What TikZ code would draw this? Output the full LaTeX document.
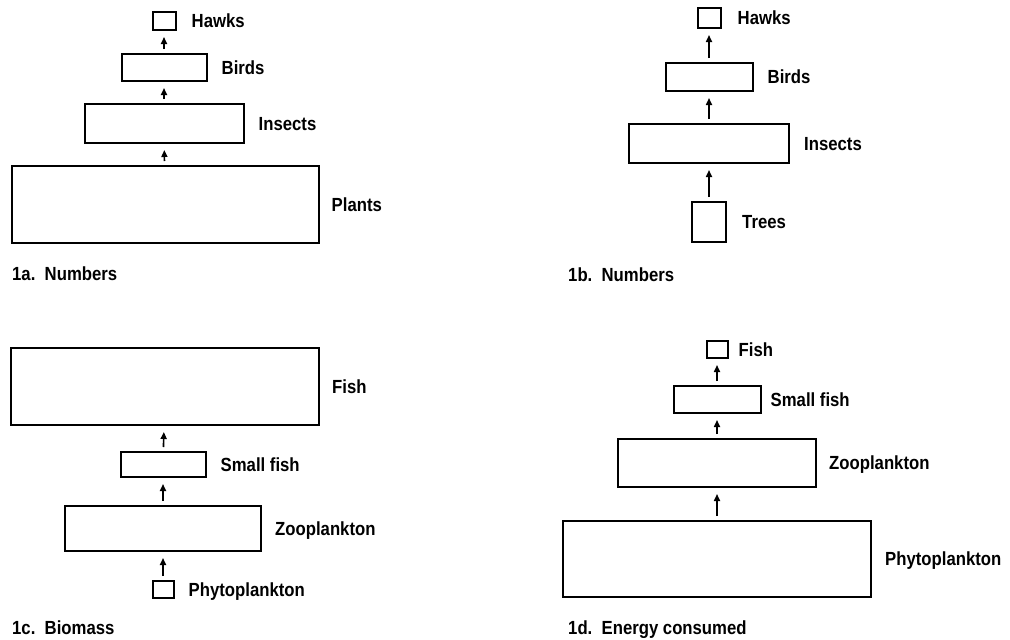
\documentclass[tikz,border=0pt]{standalone}
\usepackage{fontspec}
\setmainfont{Liberation Sans}[FakeStretch=0.88]
\usetikzlibrary{arrows.meta,positioning}

\begin{document}
\begin{tikzpicture}[
  x=1pt, y=-1pt,
  tier/.style 2 args={draw, line width=2pt, inner sep=0pt, minimum width=#1, minimum height=#2},
  tag/.style={inner sep=0pt, yshift=-3pt, font=\bfseries\fontsize{19}{22}\selectfont, text height=0.72em, text depth=0pt},
  caption/.style={anchor=west, inner sep=0pt, font=\bfseries\fontsize{19}{22}\selectfont, text height=0.72em, text depth=0pt},
  feed/.style={-{Triangle[length=7pt,width=6pt]}, line width=1.6pt, shorten <=4pt, shorten >=6pt}
]
\useasboundingbox (0,0) rectangle (1010,640);

% 1a
\node[tier={23}{18}] (hawksA) at (164,21) {};
\node[tier={85}{27}] (birdsA) at (164,67.5) {};
\node[tier={159}{39}] (insectsA) at (164,123.5) {};
\node[tier={307}{77}] (plantsA) at (165,204.5) {};
\node[tag, right=15pt of hawksA] (hawksAtag) {Hawks};
\node[tag, right=14pt of birdsA] (birdsAtag) {Birds};
\node[tag, right=14pt of insectsA] (insectsAtag) {Insects};
\node[tag, right=12pt of plantsA] (plantsAtag) {Plants};
\node[caption] (capA) at (12,277) {1a.\ \ Numbers};
\draw[feed] (birdsA) -- (hawksA);
\draw[feed] (insectsA) -- (birdsA);
\draw[feed] (plantsA) -- (insectsA);

% 1b
\node[tier={23}{20}] (hawksB) at (709,18) {};
\node[tier={87}{28}] (birdsB) at (709,77) {};
\node[tier={160}{39}] (insectsB) at (709,143.5) {};
\node[tier={34}{40}] (treesB) at (709,222) {};
\node[tag, right=16pt of hawksB] (hawksBtag) {Hawks};
\node[tag, right=14pt of birdsB] (birdsBtag) {Birds};
\node[tag, right=14pt of insectsB] (insectsBtag) {Insects};
\node[tag, right=15pt of treesB] (treesBtag) {Trees};
\node[caption] (capB) at (568,278) {1b.\ \ Numbers};
\draw[feed] (birdsB) -- (hawksB);
\draw[feed] (insectsB) -- (birdsB);
\draw[feed] (treesB) -- (insectsB);

% 1c
\node[tier={308}{77}] (fishC) at (165,386.5) {};
\node[tier={85}{25}] (smallC) at (163,464.5) {};
\node[tier={196}{45}] (zooC) at (163,528.5) {};
\node[tier={21}{17}] (phytoC) at (163,589.5) {};
\node[tag, right=12pt of fishC] (fishCtag) {Fish};
\node[tag, right=14pt of smallC] (smallCtag) {Small fish};
\node[tag, right=13pt of zooC] (zooCtag) {Zooplankton};
\node[tag, right=14pt of phytoC] (phytoCtag) {Phytoplankton};
\node[caption] (capC) at (12,631) {1c.\ \ Biomass};
\draw[feed] (smallC) -- (fishC);
\draw[feed] (zooC) -- (smallC);
\draw[feed] (phytoC) -- (zooC);

% 1d
\node[tier={21}{17}] (fishD) at (717,349.5) {};
\node[tier={87}{27}] (smallD) at (717,399.5) {};
\node[tier={198}{48}] (zooD) at (717,463) {};
\node[tier={308}{76}] (phytoD) at (717,559) {};
\node[tag, right=10pt of fishD] (fishDtag) {Fish};
\node[tag, right=9pt of smallD] (smallDtag) {Small fish};
\node[tag, right=12pt of zooD] (zooDtag) {Zooplankton};
\node[tag, right=13pt of phytoD] (phytoDtag) {Phytoplankton};
\node[caption] (capD) at (568,631) {1d.\ \ Energy consumed};
\draw[feed] (smallD) -- (fishD);
\draw[feed] (zooD) -- (smallD);
\draw[feed] (phytoD) -- (zooD);

\end{tikzpicture}
\end{document}
